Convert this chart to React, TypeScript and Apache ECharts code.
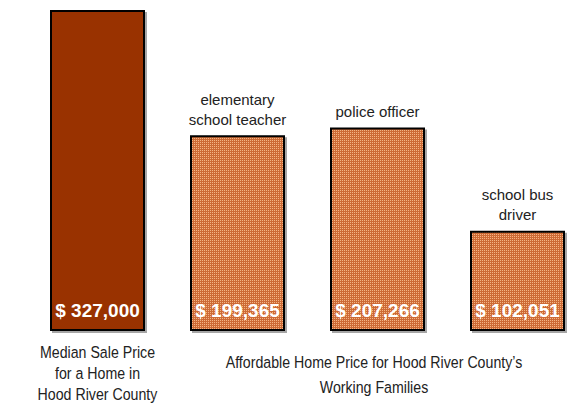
import React, { useEffect, useRef } from "react";
import * as echarts from "echarts";

const categories = ["median", "teacher", "police", "bus"];
const values = [327000, 199365, 207266, 102051];
const topLabels = ["", "elementary\nschool teacher", "police officer", "school bus\ndriver"];
const valueLabels = ["$ 327,000", "$ 199,365", "$ 207,266", "$ 102,051"];
const leftCaption = "Median Sale Price\nfor a Home in\nHood River County";
const groupCaption = "Affordable Home Price for Hood River County\u2019s\nWorking Families";

function makePattern() {
  const c = document.createElement("canvas");
  c.width = 2;
  c.height = 2;
  const ctx = c.getContext("2d")!;
  ctx.fillStyle = "#cd6a36";
  ctx.fillRect(0, 0, 2, 2);
  ctx.fillStyle = "#f4b585";
  ctx.fillRect(0, 0, 1, 1);
  return c;
}

export default function App() {
  const ref = useRef<HTMLDivElement>(null);
  useEffect(() => {
    const chart = echarts.init(ref.current!, undefined, { renderer: "svg" });
    const pattern = makePattern();
    const font = "'Liberation Sans', Arial, sans-serif";
    chart.setOption({
      animation: false,
      grid: { left: 27.5, width: 560, top: 10, height: 321, outerBoundsMode: "none", containLabel: false },
      xAxis: {
        type: "category",
        data: categories,
        axisLine: { show: false },
        axisTick: { show: false },
        axisLabel: { show: false },
      },
      yAxis: {
        type: "value",
        min: 0,
        max: 327000,
        show: false,
        splitLine: { show: false },
      },
      series: [
        {
          type: "bar",
          barWidth: 95,
          data: values.map((v, i) => ({
            value: v,
            itemStyle: {
              color: i === 0 ? "#993300" : { image: pattern, repeat: "repeat" },
            },
          })),
          itemStyle: {
            borderColor: "#000",
            borderWidth: 2,
            shadowColor: "rgba(0,0,0,0.35)",
            shadowOffsetX: 2,
            shadowOffsetY: 2,
            shadowBlur: 0,
          },
          label: {
            show: true,
            position: "insideBottom",
            distance: 11,
            formatter: (p: any) => valueLabels[p.dataIndex],
            color: "#fff",
            fontFamily: font,
            fontWeight: "bold",
            fontSize: 19,
          },
        },
        {
          type: "bar",
          barWidth: 95,
          barGap: "-100%",
          silent: true,
          data: values,
          itemStyle: { color: "transparent" },
          label: {
            show: true,
            position: "top",
            distance: 6,
            formatter: (p: any) => topLabels[p.dataIndex],
            color: "#222",
            fontFamily: font,
            fontSize: 15,
            lineHeight: 20,
          },
        },
      ],
      graphic: [
        {
          type: "text",
          x: 97.5,
          y: 342,
          scaleX: 0.86,
          style: {
            text: leftCaption,
            fill: "#222",
            fontSize: 16.5,
            fontFamily: font,
            lineHeight: 21,
            align: "center",
          },
        },
        {
          type: "text",
          x: 374,
          y: 350,
          scaleX: 0.86,
          style: {
            text: groupCaption,
            fill: "#222",
            fontSize: 16.5,
            fontFamily: font,
            lineHeight: 25,
            align: "center",
          },
        },
      ],
    });
    return () => chart.dispose();
  }, []);
  return (
    <div
      ref={ref}
      style={{ position: "absolute", left: 0, top: 0, width: 574, height: 404, background: "#fff" }}
    />
  );
}
